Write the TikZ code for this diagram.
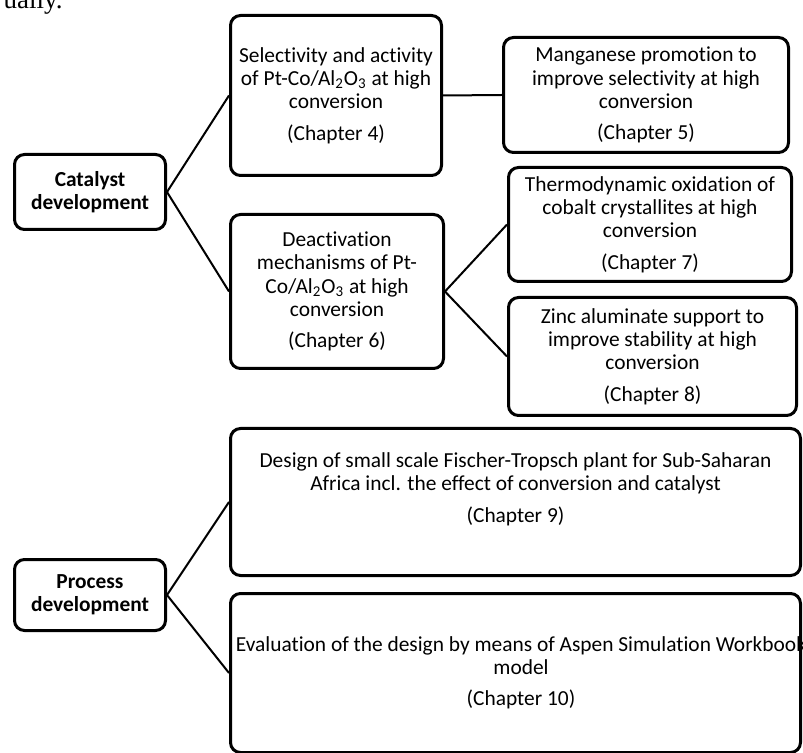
\documentclass[tikz,border=0pt]{standalone}
\usepackage{fontspec}
\setmainfont{Carlito}[Ligatures=NoCommon]
\newfontfamily\bodyserif{Liberation Serif}
\usetikzlibrary{positioning}

\begin{document}
\begin{tikzpicture}[
  x=0.5pt, y=-0.5pt,
  every node/.style={align=center, font=\fontsize{10.7}{11.6}\selectfont},
  chapbox/.style={draw, line width=1.5pt, rounded corners=5pt, inner sep=2pt},
  areabox/.style={chapbox, font=\fontsize{10.7}{11.6}\selectfont\bfseries},
  link/.style={line width=1pt}
]
\useasboundingbox (0,0) rectangle (803,753);

% End of the sentence above the figure
\node[font=\bodyserif\fontsize{13.5}{16}\selectfont, anchor=base east, inner sep=0pt] (ually) at (63,9) {ually.};

% Catalyst development
\node[areabox, minimum width=75.5pt, minimum height=37.5pt] (catalyst) at (90,192) {Catalyst\\development};
\node[chapbox, minimum width=105.5pt, minimum height=80pt] (selectivity) at (336,95.5) {Selectivity and activity\\of Pt-Co/Al\textsubscript{2}O\textsubscript{3} at high\\conversion\\[4pt](Chapter 4)};
\node[chapbox, minimum width=142.5pt, minimum height=57.5pt] (manganese) at (646,95) {Manganese promotion to\\improve selectivity at high\\conversion\\[4pt](Chapter 5)};
\node[chapbox, minimum width=106.5pt, minimum height=77pt] (deactivation) at (337,291.5) {Deactivation\\mechanisms of Pt-\\Co/Al\textsubscript{2}O\textsubscript{3} at high\\conversion\\[4pt](Chapter 6)};
\node[chapbox, minimum width=141.5pt, minimum height=57pt] (thermo) at (650,224.5) {Thermodynamic oxidation of\\cobalt crystallites at high\\conversion\\[4pt](Chapter 7)};
\node[chapbox, minimum width=144pt, minimum height=59pt] (zinc) at (652.5,356.5) {Zinc aluminate support to\\improve stability at high\\conversion\\[4pt](Chapter 8)};

% Process development
\node[areabox, minimum width=75.5pt, minimum height=35.5pt] (process) at (90,595) {Process\\development};
\node[chapbox, minimum width=285pt, minimum height=73.5pt] (design) at (515.5,502) {\makebox[0pt]{Design of small scale Fischer-Tropsch plant for Sub-Saharan}\\Africa incl. the effect of conversion and catalyst\\[4pt](Chapter 9)\\[3pt]\mbox{}};
\node[chapbox, minimum width=285pt, minimum height=79.5pt] (evaluation) at (515.5,673) {\makebox[0pt]{\hspace{5.5pt}Evaluation of the design by means of Aspen Simulation Workbook}\\\hspace{5.5pt}model\\[4pt]\hspace{5.5pt}(Chapter 10)};

% Links from each area to its chapters
\draw[link] (catalyst.east) -- (selectivity.west);
\draw[link] (catalyst.east) -- (deactivation.west);
\draw[link] (selectivity.east) -- (manganese.west);
\draw[link] (deactivation.east) -- (thermo.west);
\draw[link] (deactivation.east) -- (zinc.west);
\draw[link] (process.east) -- (design.west);
\draw[link] (process.east) -- (evaluation.west);

\end{tikzpicture}
\end{document}
